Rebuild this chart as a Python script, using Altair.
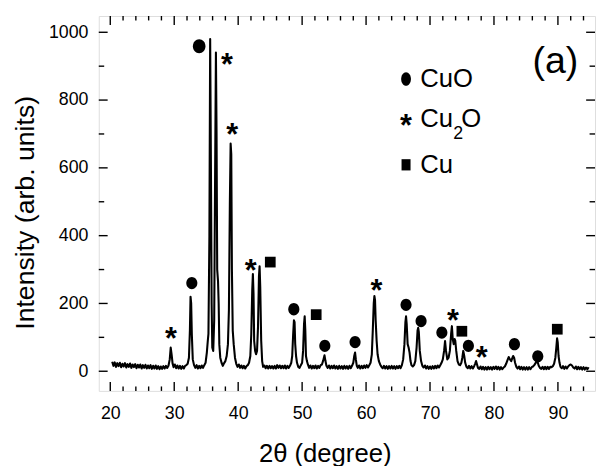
import altair as alt
import pandas as pd

# ---------------- data ----------------
two_theta = [
    20.3, 20.5, 20.7, 20.9, 21.1, 21.3, 21.5, 21.7, 21.9, 22.1,
    22.3, 22.5, 22.7, 22.9, 23.1, 23.3, 23.5, 23.7, 23.9, 24.1,
    24.3, 24.5, 24.7, 24.9, 25.1, 25.3, 25.5, 25.7, 25.9, 26.1,
    26.3, 26.5, 26.7, 26.9, 27.1, 27.3, 27.5, 27.7, 27.9, 28.1,
    28.3, 28.5, 28.7, 28.9, 29.1, 29.3, 29.45, 29.6, 29.75, 29.9,
    30.1, 30.3, 30.5, 30.7, 30.9, 31.1, 31.3, 31.5, 31.7, 31.9,
    32.1, 32.3, 32.45, 32.55, 32.65, 32.75, 32.9, 33.1, 33.3, 33.5,
    33.7, 33.9, 34.1, 34.3, 34.5, 34.7, 34.9, 35.1, 35.25, 35.35,
    35.5, 35.62, 35.74, 35.85, 35.95, 36.1, 36.25, 36.4, 36.52, 36.62,
    36.72, 36.85, 36.95, 37.05, 37.2, 37.4, 37.6, 37.8, 38.0, 38.2,
    38.4, 38.55, 38.7, 38.82, 38.92, 39.02, 39.15, 39.3, 39.5, 39.7,
    39.9, 40.1, 40.3, 40.5, 40.7, 40.9, 41.1, 41.3, 41.5, 41.7,
    41.9, 42.05, 42.2, 42.3, 42.4, 42.5, 42.65, 42.8, 42.95, 43.1,
    43.25, 43.35, 43.45, 43.6, 43.75, 43.9, 44.1, 44.3, 44.5, 44.7,
    44.9, 45.1, 45.3, 45.5, 45.7, 45.9, 46.1, 46.3, 46.5, 46.7,
    46.9, 47.1, 47.3, 47.5, 47.7, 47.9, 48.1, 48.3, 48.45, 48.6,
    48.72, 48.82, 48.92, 49.05, 49.2, 49.4, 49.6, 49.8, 50.0, 50.15,
    50.3, 50.4, 50.5, 50.6, 50.75, 50.9, 51.1, 51.3, 51.5, 51.7,
    51.9, 52.1, 52.3, 52.5, 52.7, 52.9, 53.1, 53.3, 53.5, 53.65,
    53.8, 54.0, 54.2, 54.4, 54.6, 54.8, 55.0, 55.2, 55.4, 55.6,
    55.8, 56.0, 56.2, 56.4, 56.6, 56.8, 57.0, 57.2, 57.4, 57.6,
    57.8, 58.0, 58.15, 58.28, 58.4, 58.55, 58.7, 58.9, 59.1, 59.3,
    59.5, 59.7, 59.9, 60.1, 60.3, 60.5, 60.7, 60.9, 61.05, 61.2,
    61.3, 61.4, 61.5, 61.65, 61.8, 62.0, 62.2, 62.4, 62.6, 62.8,
    63.0, 63.2, 63.4, 63.6, 63.8, 64.0, 64.2, 64.4, 64.6, 64.8,
    65.0, 65.2, 65.4, 65.6, 65.8, 66.0, 66.15, 66.25, 66.35, 66.5,
    66.65, 66.8, 66.95, 67.1, 67.3, 67.5, 67.7, 67.9, 68.05, 68.15,
    68.25, 68.4, 68.6, 68.8, 69.0, 69.2, 69.4, 69.6, 69.8, 70.0,
    70.2, 70.4, 70.6, 70.8, 71.0, 71.2, 71.4, 71.6, 71.8, 72.0,
    72.2, 72.35, 72.5, 72.7, 72.9, 73.1, 73.3, 73.42, 73.55, 73.7,
    73.85, 73.95, 74.1, 74.3, 74.5, 74.7, 74.9, 75.05, 75.2, 75.35,
    75.5, 75.7, 75.9, 76.1, 76.3, 76.5, 76.7, 76.9, 77.05, 77.2,
    77.35, 77.5, 77.7, 77.9, 78.1, 78.3, 78.5, 78.7, 78.9, 79.1,
    79.3, 79.5, 79.7, 79.9, 80.1, 80.3, 80.5, 80.7, 80.9, 81.1,
    81.3, 81.5, 81.7, 81.9, 82.1, 82.3, 82.5, 82.7, 82.85, 83.0,
    83.15, 83.3, 83.5, 83.7, 83.9, 84.1, 84.3, 84.5, 84.7, 84.9,
    85.1, 85.3, 85.5, 85.7, 85.9, 86.1, 86.3, 86.5, 86.7, 86.85,
    87.0, 87.2, 87.4, 87.6, 87.8, 88.0, 88.2, 88.4, 88.6, 88.8,
    89.0, 89.2, 89.4, 89.6, 89.75, 89.87, 89.97, 90.1, 90.25, 90.4,
    90.6, 90.8, 91.0, 91.2, 91.4, 91.6, 91.8, 92.0, 92.2, 92.4,
    92.6, 92.8, 93.0, 93.2, 93.4, 93.6, 93.8, 94.0, 94.2, 94.4,
    94.6, 94.8,
]
intensity = [
    28, 16, 26, 13, 24, 15, 25, 12, 22, 14,
    24, 11, 21, 13, 23, 10, 20, 12, 21, 9,
    19, 11, 20, 8, 18, 10, 19, 8, 17, 9,
    18, 7, 16, 8, 17, 7, 15, 6, 14, 7,
    15, 8, 16, 10, 16, 35, 70, 48, 22, 12,
    20, 9, 17, 8, 16, 7, 15, 8, 16, 18,
    22, 40, 120, 220, 200, 110, 35, 18, 10, 18,
    8, 16, 9, 17, 10, 18, 25, 55, 90, 110,
    400, 980, 600, 200, 70, 60, 150, 600, 940, 700,
    300, 265, 200, 80, 40, 25, 16, 24, 30, 45,
    80, 180, 500, 672, 640, 300, 120, 80, 40, 22,
    13, 20, 10, 17, 9, 16, 8, 15, 18, 25,
    45, 110, 240, 287, 230, 90, 60, 50, 60, 130,
    280, 310, 250, 90, 30, 13, 17, 9, 16, 8,
    16, 9, 15, 8, 16, 8, 18, 10, 17, 9,
    16, 9, 17, 8, 16, 10, 16, 25, 45, 110,
    150, 145, 80, 45, 25, 13, 10, 18, 25, 60,
    140, 162, 120, 45, 30, 20, 10, 17, 8, 16,
    9, 17, 8, 16, 10, 18, 20, 32, 47, 30,
    16, 10, 17, 8, 16, 9, 17, 8, 15, 7,
    16, 8, 15, 7, 16, 8, 15, 7, 16, 9,
    16, 25, 45, 55, 35, 16, 10, 17, 8, 16,
    9, 17, 10, 18, 11, 18, 25, 50, 120, 200,
    222, 210, 150, 90, 50, 30, 20, 13, 9, 16,
    8, 15, 7, 15, 8, 16, 8, 15, 7, 15,
    9, 16, 9, 18, 35, 80, 145, 162, 140, 80,
    70, 55, 30, 18, 14, 18, 30, 70, 120, 128,
    115, 60, 30, 16, 11, 17, 8, 15, 7, 14,
    7, 15, 8, 16, 9, 17, 11, 18, 25, 35,
    60, 89, 60, 35, 40, 60, 110, 133, 95, 80,
    95, 90, 60, 30, 20, 18, 25, 40, 60, 45,
    25, 13, 9, 16, 8, 15, 8, 15, 22, 30,
    20, 10, 7, 14, 6, 13, 5, 12, 5, 13,
    6, 12, 5, 13, 7, 14, 6, 13, 5, 12,
    6, 11, 14, 22, 32, 42, 35, 30, 38, 45,
    40, 25, 13, 8, 14, 6, 13, 5, 12, 5,
    12, 5, 12, 6, 12, 14, 18, 24, 30, 26,
    16, 10, 7, 13, 6, 13, 6, 13, 7, 13,
    12, 15, 22, 40, 70, 97, 85, 45, 25, 13,
    9, 15, 7, 14, 8, 14, 18, 20, 17, 11,
    8, 14, 6, 13, 6, 12, 5, 12, 5, 11,
    6, 12,
]
assert len(two_theta) == len(intensity)

# phase markers on the peaks
circle_x = [32.75, 48.7, 53.55, 58.28, 66.25, 68.6, 71.85, 76.0, 83.2, 86.85]
circle_y = [260, 183, 75, 86, 196, 148, 114, 75, 80, 44]
big_circle_x = [33.9]
big_circle_y = [959]
star_x = [29.5, 38.24, 39.05, 41.94, 61.63, 73.6, 78.1]
star_y = [119, 925, 721, 320, 259, 172, 62]
square_x = [45.02, 52.2, 74.98, 89.9]
square_y = [322, 167, 118, 124]

# hand-drawn legend
legend_marker_x = [66.25, 66.25, 66.25]
legend_marker_y = [862, 745, 609]
legend_marker_kind = ["circle", "star", "square"]
legend_text = ["CuO", "Cu", "O", "Cu"]
legend_text_x = [68.46, 68.46, 74.9, 68.46]
legend_text_y = [862, 745, 745, 609]
legend_sub_text = ["2"]
legend_sub_x = [73.65]
legend_sub_y = [700]

panel_label = ["(a)"]
panel_x = [89.6]
panel_y = [913]

x_major = [20, 30, 40, 50, 60, 70, 80, 90]
x_minor = [22, 24, 26, 28, 32, 34, 36, 38, 42, 44, 46, 48, 52, 54, 56, 58,
           62, 64, 66, 68, 72, 74, 76, 78, 82, 84, 86, 88, 92, 94]
y_major = [0, 200, 400, 600, 800, 1000]
y_minor = [100, 300, 500, 700, 900]

# ---------------- chart ----------------
W, H = 503, 380
FONT = "Liberation Sans"
X_DOM = [18.2, 95.8]
Y_DOM = [-58, 1048]

xs = alt.Scale(domain=X_DOM, nice=False, zero=False)
ys = alt.Scale(domain=Y_DOM, nice=False, zero=False)

X = lambda **kw: alt.X("x:Q", scale=xs, **kw)
Y = lambda **kw: alt.Y("y:Q", scale=ys, **kw)

df_line = pd.DataFrame({"x": two_theta, "y": intensity})

line = alt.Chart(df_line).mark_line(color="black", strokeWidth=2.1, strokeJoin="round").encode(
    x=X(axis=alt.Axis(values=x_major, title="2θ (degree)", ticks=False, domain=False, grid=False,
                      format="d", labelFont=FONT, labelFontSize=18, labelColor="black",
                      labelPadding=14, titleFont=FONT, titleFontSize=26, titleFontWeight="normal",
                      titleColor="black", titlePadding=19, titleX=229, titleAnchor="start",
                      titleAlign="center")),
    y=Y(axis=alt.Axis(values=y_major, title="Intensity (arb. units)", ticks=False, domain=False,
                      grid=False, format="d", labelFont=FONT, labelFontSize=18, labelColor="black",
                      labelPadding=11, titleFont=FONT, titleFontSize=27, titleFontWeight="normal",
                      titleColor="black", titlePadding=9, titleY=199, titleAnchor="start",
                      titleAlign="center")),
)

ell = "M0,-1A0.9,1 0 1,1 0,1A0.9,1 0 1,1 0,-1Z"
circles = alt.Chart(pd.DataFrame({"x": circle_x, "y": circle_y})).mark_point(
    shape=ell, filled=True, color="black", opacity=1, size=156).encode(x=X(), y=Y())
big_circle = alt.Chart(pd.DataFrame({"x": big_circle_x, "y": big_circle_y})).mark_point(
    shape=ell, filled=True, color="black", opacity=1, size=200).encode(x=X(), y=Y())
squares = alt.Chart(pd.DataFrame({"x": square_x, "y": square_y})).mark_point(
    shape="square", filled=True, color="black", opacity=1, size=118).encode(x=X(), y=Y())
STAR_FS = 31
stars = alt.Chart(pd.DataFrame({"x": star_x, "y": star_y, "t": ["*"] * len(star_x)})).mark_text(
    font=FONT, fontSize=STAR_FS, fontWeight="bold", baseline="alphabetic", align="center",
    dy=round(0.575 * STAR_FS), color="black").encode(x=X(), y=Y(), text="t:N")

lg = pd.DataFrame({"x": legend_marker_x, "y": legend_marker_y, "k": legend_marker_kind})
lg_circle = alt.Chart(lg[lg.k == "circle"]).mark_point(
    shape="M0,-1A0.72,1 0 1,1 0,1A0.72,1 0 1,1 0,-1Z", filled=True, color="black", opacity=1,
    size=190).encode(x=X(), y=Y())
lg_square = alt.Chart(lg[lg.k == "square"]).mark_point(
    shape="M-0.8,-1H0.8V1H-0.8Z", filled=True, color="black", opacity=1, size=130).encode(x=X(), y=Y())
lg_star = alt.Chart(lg[lg.k == "star"].assign(t="*")).mark_text(
    font=FONT, fontSize=STAR_FS, fontWeight="bold", baseline="alphabetic", align="center",
    dy=round(0.575 * STAR_FS), color="black").encode(x=X(), y=Y(), text="t:N")
lg_text = alt.Chart(pd.DataFrame({"x": legend_text_x, "y": legend_text_y, "t": legend_text})).mark_text(
    font=FONT, fontSize=26, baseline="middle", align="left", color="black").encode(
    x=X(), y=Y(), text="t:N")
lg_sub = alt.Chart(pd.DataFrame({"x": legend_sub_x, "y": legend_sub_y, "t": legend_sub_text})).mark_text(
    font=FONT, fontSize=18, baseline="middle", align="left", color="black").encode(
    x=X(), y=Y(), text="t:N")
panel = alt.Chart(pd.DataFrame({"x": panel_x, "y": panel_y, "t": panel_label})).mark_text(
    font=FONT, fontSize=38, baseline="middle", align="center", color="black").encode(
    x=X(), y=Y(), text="t:N")

TK = dict(color="black", strokeWidth=1.4)
MAJ, MIN = 9, 4.5
dxM = pd.DataFrame({"x": x_major})
dxm = pd.DataFrame({"x": x_minor})
dyM = pd.DataFrame({"y": y_major})
dym = pd.DataFrame({"y": y_minor})
ticks = [
    alt.Chart(dxM).mark_rule(**TK).encode(x=X(), y=alt.value(H), y2=alt.value(H - MAJ)),
    alt.Chart(dxm).mark_rule(**TK).encode(x=X(), y=alt.value(H), y2=alt.value(H - MIN)),
    alt.Chart(dxM).mark_rule(**TK).encode(x=X(), y=alt.value(0), y2=alt.value(MAJ)),
    alt.Chart(dxm).mark_rule(**TK).encode(x=X(), y=alt.value(0), y2=alt.value(MIN)),
    alt.Chart(dyM).mark_rule(**TK).encode(y=Y(), x=alt.value(0), x2=alt.value(MAJ)),
    alt.Chart(dym).mark_rule(**TK).encode(y=Y(), x=alt.value(0), x2=alt.value(MIN + 1)),
    alt.Chart(dyM).mark_rule(**TK).encode(y=Y(), x=alt.value(W), x2=alt.value(W - MAJ)),
    alt.Chart(dym).mark_rule(**TK).encode(y=Y(), x=alt.value(W), x2=alt.value(W - MIN - 1)),
]

chart = alt.layer(
    line, *ticks, circles, big_circle, squares, stars,
    lg_circle, lg_square, lg_star, lg_text, lg_sub, panel,
).properties(
    width=W, height=H,
    autosize=alt.AutoSizeParams(type="none"),
    padding={"left": 92, "top": 5, "right": 1, "bottom": 73},
).configure_view(
    stroke="black", strokeWidth=1.7, fill="white"
).configure(background="white")

chart.save("out.html", embed_options={"renderer": "svg", "actions": False})
